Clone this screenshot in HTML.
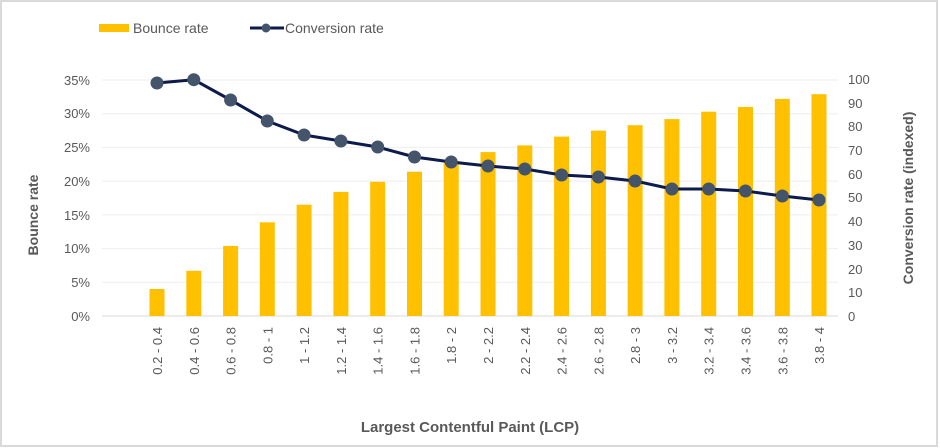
<!DOCTYPE html>
<html><head><meta charset="utf-8"><style>
html,body{margin:0;padding:0;background:#fff}
svg{display:block}
text{font-family:"Liberation Sans",Arial,sans-serif;fill:#595959}
</style></head><body>
<svg width="940" height="448" viewBox="0 0 940 448" xmlns="http://www.w3.org/2000/svg">
<rect x="1" y="1" width="936" height="445" fill="#fff" stroke="#d9d9d9" stroke-width="2"/>
<!-- legend -->
<rect x="99" y="24" width="30" height="8" fill="#FFC000"/>
<text x="133" y="33" font-size="14">Bounce rate</text>
<line x1="250" y1="28" x2="284" y2="28" stroke="#0d1b4a" stroke-width="3"/>
<circle cx="266" cy="28" r="4.5" fill="#44546a"/>
<text x="285" y="33" font-size="14">Conversion rate</text>
<!-- gridlines -->
<g stroke="#eeeeee" stroke-width="1">
<line x1="102" x2="838" y1="282.3" y2="282.3"/><line x1="102" x2="838" y1="248.6" y2="248.6"/>
<line x1="102" x2="838" y1="214.9" y2="214.9"/><line x1="102" x2="838" y1="181.1" y2="181.1"/>
<line x1="102" x2="838" y1="147.4" y2="147.4"/><line x1="102" x2="838" y1="113.7" y2="113.7"/>
<line x1="102" x2="838" y1="80" y2="80"/>
</g>
<line x1="102" x2="838" y1="316" y2="316" stroke="#d9d9d9" stroke-width="1"/>
<!-- left ticks -->
<g font-size="13" text-anchor="end">
<text x="90" y="321">0%</text><text x="90" y="287">5%</text><text x="90" y="253">10%</text>
<text x="90" y="220">15%</text><text x="90" y="186">20%</text><text x="90" y="152">25%</text>
<text x="90" y="118">30%</text><text x="90" y="85">35%</text>
</g>
<!-- right ticks -->
<g font-size="13" text-anchor="start">
<text x="848" y="321">0</text><text x="848" y="297">10</text><text x="848" y="274">20</text>
<text x="848" y="250">30</text><text x="848" y="226">40</text><text x="848" y="202">50</text>
<text x="848" y="179">60</text><text x="848" y="155">70</text><text x="848" y="131">80</text>
<text x="848" y="108">90</text><text x="848" y="84">100</text>
</g>
<text transform="translate(38,215) rotate(-90)" font-size="14" font-weight="bold" text-anchor="middle">Bounce rate</text>
<text transform="translate(913,198) rotate(-90)" font-size="14" font-weight="bold" text-anchor="middle">Conversion rate (indexed)</text>
<text x="470" y="432" font-size="15" font-weight="bold" text-anchor="middle">Largest Contentful Paint (LCP)</text>
<!-- bars -->
<g fill="#FFC000">
<rect x="149.5" y="289" width="15" height="27"/>
<rect x="186.3" y="270.8" width="15" height="45.2"/>
<rect x="223.1" y="245.9" width="15" height="70.1"/>
<rect x="259.8" y="222.3" width="15" height="93.7"/>
<rect x="296.6" y="204.7" width="15" height="111.3"/>
<rect x="333.4" y="191.9" width="15" height="124.1"/>
<rect x="370.2" y="181.8" width="15" height="134.2"/>
<rect x="407" y="171.7" width="15" height="144.3"/>
<rect x="443.7" y="160.9" width="15" height="155.1"/>
<rect x="480.5" y="152.1" width="15" height="163.9"/>
<rect x="517.3" y="145.4" width="15" height="170.6"/>
<rect x="554.1" y="136.6" width="15" height="179.4"/>
<rect x="590.9" y="130.6" width="15" height="185.4"/>
<rect x="627.6" y="125.2" width="15" height="190.8"/>
<rect x="664.4" y="119.1" width="15" height="196.9"/>
<rect x="701.2" y="111.7" width="15" height="204.3"/>
<rect x="738" y="107" width="15" height="209"/>
<rect x="774.8" y="98.9" width="15" height="217.1"/>
<rect x="811.5" y="94.2" width="15" height="221.8"/>
</g>
<!-- line -->
<polyline fill="none" stroke="#0d1b4a" stroke-width="3" stroke-linejoin="round" points="157,83 193.8,79.7 230.6,100 267.3,121 304.1,135 340.9,141 377.7,147 414.5,157 451.2,162 488,166 524.8,169 561.6,175 598.4,177 635.1,181 671.9,189 708.7,189 745.5,191 782.3,196 819,200"/>
<g fill="#44546a">
<circle cx="157" cy="83" r="6.5"/><circle cx="193.8" cy="79.7" r="6.5"/><circle cx="230.6" cy="100" r="6.5"/>
<circle cx="267.3" cy="121" r="6.5"/><circle cx="304.1" cy="135" r="6.5"/><circle cx="340.9" cy="141" r="6.5"/>
<circle cx="377.7" cy="147" r="6.5"/><circle cx="414.5" cy="157" r="6.5"/><circle cx="451.2" cy="162" r="6.5"/>
<circle cx="488" cy="166" r="6.5"/><circle cx="524.8" cy="169" r="6.5"/><circle cx="561.6" cy="175" r="6.5"/>
<circle cx="598.4" cy="177" r="6.5"/><circle cx="635.1" cy="181" r="6.5"/><circle cx="671.9" cy="189" r="6.5"/>
<circle cx="708.7" cy="189" r="6.5"/><circle cx="745.5" cy="191" r="6.5"/><circle cx="782.3" cy="196" r="6.5"/>
<circle cx="819" cy="200" r="6.5"/>
</g>
<!-- x labels -->
<g font-size="13" text-anchor="end">
<text transform="translate(162,327) rotate(-90)">0.2 - 0.4</text>
<text transform="translate(198.8,327) rotate(-90)">0.4 - 0.6</text>
<text transform="translate(235.6,327) rotate(-90)">0.6 - 0.8</text>
<text transform="translate(272.3,327) rotate(-90)">0.8 - 1</text>
<text transform="translate(309.1,327) rotate(-90)">1 - 1.2</text>
<text transform="translate(345.9,327) rotate(-90)">1.2 - 1.4</text>
<text transform="translate(382.7,327) rotate(-90)">1.4 - 1.6</text>
<text transform="translate(419.5,327) rotate(-90)">1.6 - 1.8</text>
<text transform="translate(456.2,327) rotate(-90)">1.8 - 2</text>
<text transform="translate(493,327) rotate(-90)">2 - 2.2</text>
<text transform="translate(529.8,327) rotate(-90)">2.2 - 2.4</text>
<text transform="translate(566.6,327) rotate(-90)">2.4 - 2.6</text>
<text transform="translate(603.4,327) rotate(-90)">2.6 - 2.8</text>
<text transform="translate(640.1,327) rotate(-90)">2.8 - 3</text>
<text transform="translate(676.9,327) rotate(-90)">3 - 3.2</text>
<text transform="translate(713.7,327) rotate(-90)">3.2 - 3.4</text>
<text transform="translate(750.5,327) rotate(-90)">3.4 - 3.6</text>
<text transform="translate(787.3,327) rotate(-90)">3.6 - 3.8</text>
<text transform="translate(824,327) rotate(-90)">3.8 - 4</text>
</g>
</svg>
</body></html>
